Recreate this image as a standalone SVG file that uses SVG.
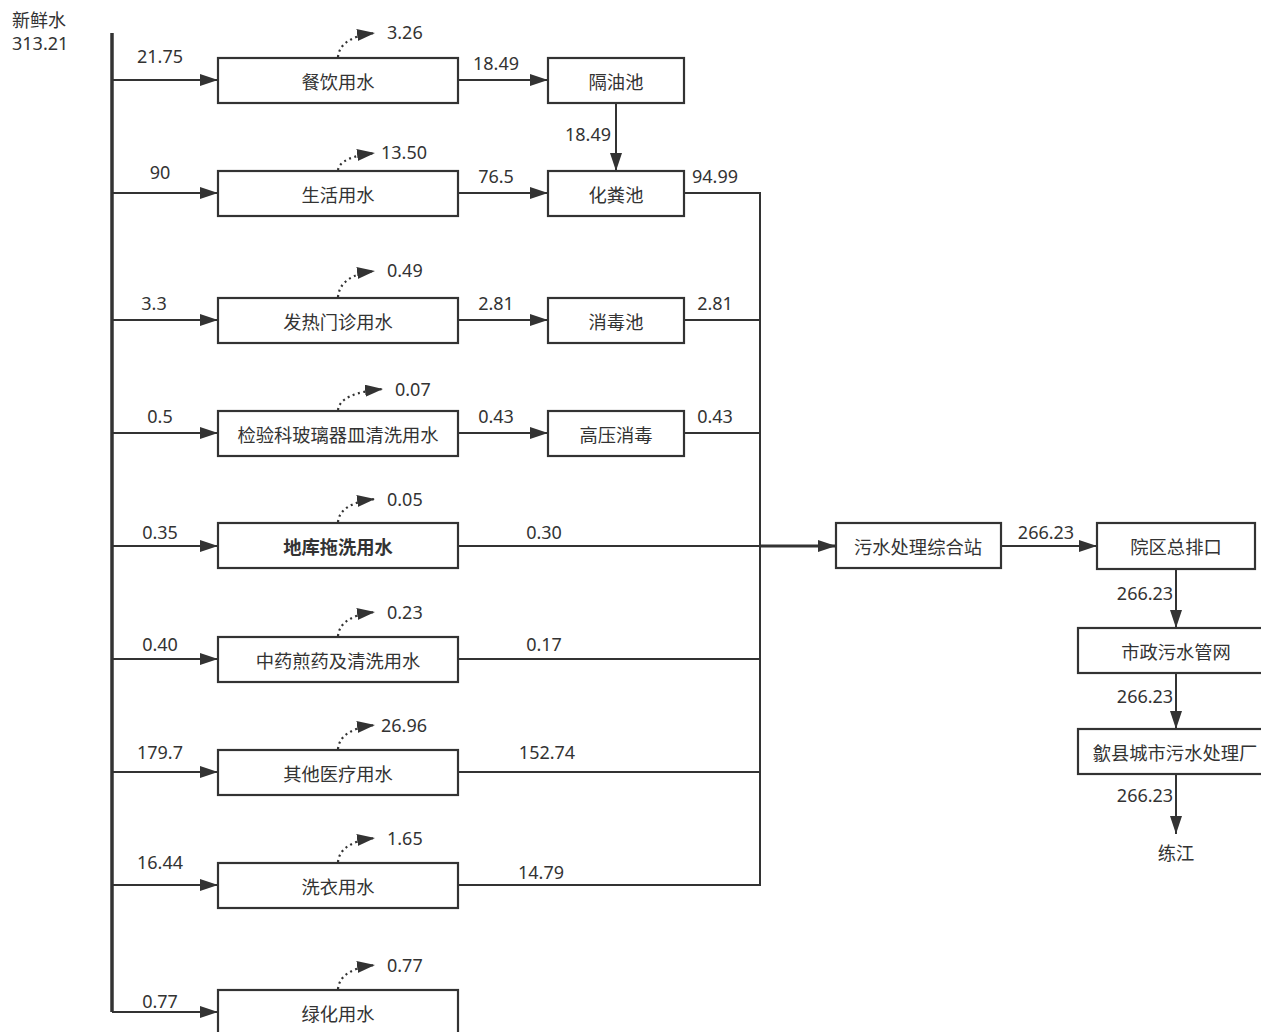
<svg xmlns="http://www.w3.org/2000/svg" width="1261" height="1032" viewBox="0 0 1261 1032">
<defs>
<marker id="ah" viewBox="0 0 18 12" refX="18" refY="6" markerWidth="18" markerHeight="12" markerUnits="userSpaceOnUse" orient="auto"><path d="M0,0 L18,6 L0,12 Z" fill="#333"/></marker>
<style>
.box{fill:#fff;stroke:#333;stroke-width:2.2}
.t{font-family:"Noto Sans","Noto Sans CJK SC",sans-serif;font-size:18px;fill:#333;text-anchor:middle;dominant-baseline:central}
.c{font-size:18.3px}
.n{font-family:"Noto Sans","Noto Sans CJK SC",sans-serif;font-size:18px;fill:#333;dominant-baseline:central}
.ln{fill:none;stroke:#333;stroke-width:2}
.dot{fill:none;stroke:#333;stroke-width:2.2;stroke-dasharray:2 3.5}
</style>
</defs>
<rect width="1261" height="1032" fill="#fff"/>
<text class="n" x="12" y="20">新鲜水</text>
<text class="n" x="12" y="43">313.21</text>

<g id="connectors">
<path d="M112,33 V1012" fill="none" stroke="#333" stroke-width="3.5"/>
<path class="ln" d="M112,1012 H218" marker-end="url(#ah)"/>
<path class="ln" d="M112,80 H218" marker-end="url(#ah)"/>
<path class="ln" d="M112,193 H218" marker-end="url(#ah)"/>
<path class="ln" d="M112,320 H218" marker-end="url(#ah)"/>
<path class="ln" d="M112,433 H218" marker-end="url(#ah)"/>
<path class="ln" d="M112,546 H218" marker-end="url(#ah)"/>
<path class="ln" d="M112,659 H218" marker-end="url(#ah)"/>
<path class="ln" d="M112,772 H218" marker-end="url(#ah)"/>
<path class="ln" d="M112,885 H218" marker-end="url(#ah)"/>
<path class="ln" d="M458,80 H548" marker-end="url(#ah)"/>
<path class="ln" d="M458,193 H548" marker-end="url(#ah)"/>
<path class="ln" d="M458,320 H548" marker-end="url(#ah)"/>
<path class="ln" d="M458,433 H548" marker-end="url(#ah)"/>
<path class="ln" d="M616,103 V171" marker-end="url(#ah)"/>
<path class="ln" d="M684,193 H760 V885 H458"/>
<path class="ln" d="M684,320 H760"/>
<path class="ln" d="M684,433 H760"/>
<path class="ln" d="M458,546 H760"/>
<path class="ln" d="M458,659 H760"/>
<path class="ln" d="M458,772 H760"/>
<path d="M760,546 H836" fill="none" stroke="#333" stroke-width="3" marker-end="url(#ah)"/>
<path class="ln" d="M1001,546 H1097" marker-end="url(#ah)"/>
<path class="ln" d="M1176,569 V628" marker-end="url(#ah)"/>
<path class="ln" d="M1176,673 V729" marker-end="url(#ah)"/>
<path class="ln" d="M1176,774 V834" marker-end="url(#ah)"/>
<path class="dot" d="M338,57 Q340,37 375,33" marker-end="url(#ah)"/>
<path class="dot" d="M338,170 Q340,157 375,153" marker-end="url(#ah)"/>
<path class="dot" d="M338,297 Q340,275 375,271" marker-end="url(#ah)"/>
<path class="dot" d="M338,410 Q340,393 383,389" marker-end="url(#ah)"/>
<path class="dot" d="M338,522 Q340,503 375,499" marker-end="url(#ah)"/>
<path class="dot" d="M338,636 Q340,616 375,612" marker-end="url(#ah)"/>
<path class="dot" d="M338,749 Q340,729 375,725" marker-end="url(#ah)"/>
<path class="dot" d="M338,862 Q340,842 375,838" marker-end="url(#ah)"/>
<path class="dot" d="M338,989 Q340,969 375,965" marker-end="url(#ah)"/>
</g>

<g id="labels">
<text class="t" x="160" y="56">21.75</text>
<text class="t" x="160" y="172">90</text>
<text class="t" x="154" y="303">3.3</text>
<text class="t" x="160" y="416">0.5</text>
<text class="t" x="160" y="532">0.35</text>
<text class="t" x="160" y="644">0.40</text>
<text class="t" x="160" y="752">179.7</text>
<text class="t" x="160" y="862">16.44</text>
<text class="t" x="160" y="1001">0.77</text>
<text class="n" x="387" y="32">3.26</text>
<text class="n" x="381" y="152">13.50</text>
<text class="n" x="387" y="270">0.49</text>
<text class="n" x="395" y="389">0.07</text>
<text class="n" x="387" y="499">0.05</text>
<text class="n" x="387" y="612">0.23</text>
<text class="n" x="381" y="725">26.96</text>
<text class="n" x="387" y="838">1.65</text>
<text class="n" x="387" y="965">0.77</text>
<text class="t" x="496" y="63">18.49</text>
<text class="t" x="496" y="176">76.5</text>
<text class="t" x="496" y="303">2.81</text>
<text class="t" x="496" y="416">0.43</text>
<text class="t" x="588" y="134">18.49</text>
<text class="t" x="715" y="176">94.99</text>
<text class="t" x="715" y="303">2.81</text>
<text class="t" x="715" y="416">0.43</text>
<text class="t" x="544" y="532">0.30</text>
<text class="t" x="544" y="644">0.17</text>
<text class="t" x="547" y="752">152.74</text>
<text class="t" x="541" y="872">14.79</text>
<text class="t" x="1046" y="532">266.23</text>
<text class="t" x="1145" y="593">266.23</text>
<text class="t" x="1145" y="696">266.23</text>
<text class="t" x="1145" y="795">266.23</text>
</g>

<g id="n1"><rect class="box" x="218" y="58" width="240" height="45"/><text class="t c" x="338" y="81">餐饮用水</text></g>
<g id="n2"><rect class="box" x="218" y="171" width="240" height="45"/><text class="t c" x="338" y="194">生活用水</text></g>
<g id="n3"><rect class="box" x="218" y="298" width="240" height="45"/><text class="t c" x="338" y="321">发热门诊用水</text></g>
<g id="n4"><rect class="box" x="218" y="411" width="240" height="45"/><text class="t c" x="338" y="434">检验科玻璃器皿清洗用水</text></g>
<g id="n5"><rect class="box" x="218" y="523" width="240" height="45"/><text class="t c" x="338" y="546" font-weight="bold">地库拖洗用水</text></g>
<g id="n6"><rect class="box" x="218" y="637" width="240" height="45"/><text class="t c" x="338" y="660">中药煎药及清洗用水</text></g>
<g id="n7"><rect class="box" x="218" y="750" width="240" height="45"/><text class="t c" x="338" y="773">其他医疗用水</text></g>
<g id="n8"><rect class="box" x="218" y="863" width="240" height="45"/><text class="t c" x="338" y="886">洗衣用水</text></g>
<g id="n9"><rect class="box" x="218" y="990" width="240" height="45"/><text class="t c" x="338" y="1013">绿化用水</text></g>
<g id="n10"><rect class="box" x="548" y="58" width="136" height="45"/><text class="t c" x="616" y="81">隔油池</text></g>
<g id="n11"><rect class="box" x="548" y="171" width="136" height="45"/><text class="t c" x="616" y="194">化粪池</text></g>
<g id="n12"><rect class="box" x="548" y="298" width="136" height="45"/><text class="t c" x="616" y="321">消毒池</text></g>
<g id="n13"><rect class="box" x="548" y="411" width="136" height="45"/><text class="t c" x="616" y="434">高压消毒</text></g>
<g id="n14"><rect class="box" x="836" y="523" width="165" height="45"/><text class="t c" x="918" y="546">污水处理综合站</text></g>
<g id="n15"><rect class="box" x="1097" y="523" width="158" height="46"/><text class="t c" x="1176" y="546">院区总排口</text></g>
<g id="n16"><rect class="box" x="1078" y="628" width="190" height="45"/><text class="t c" x="1176" y="651">市政污水管网</text></g>
<g id="n17"><rect class="box" x="1078" y="729" width="190" height="45"/><text class="t c" x="1175" y="752">歙县城市污水处理厂</text></g>
<g id="n18"><text class="t c" x="1176" y="852">练江</text></g>
</svg>
